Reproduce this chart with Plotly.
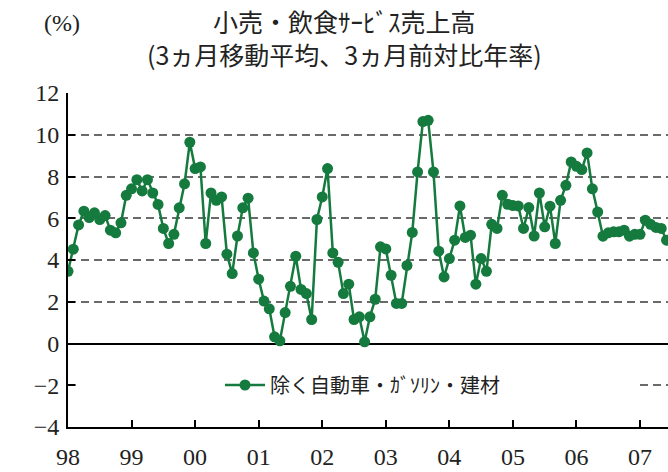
import plotly.graph_objects as go

# Monthly values, Jan 1998 onward (%)
retail_ex_auto = [
    3.46, 4.52, 5.68, 6.34, 6.03, 6.26, 5.94, 6.13, 5.43, 5.30, 5.78, 7.10,
    7.41, 7.85, 7.31, 7.85, 7.21, 6.66, 5.51, 4.79, 5.23, 6.50, 7.65, 9.64,
    8.38, 8.46, 4.79, 7.21, 6.86, 7.02, 4.28, 3.35, 5.15, 6.50, 6.96, 4.34,
    3.08, 2.03, 1.66, 0.32, 0.13, 1.48, 2.74, 4.18, 2.59, 2.39, 1.15, 5.94,
    7.02, 8.38, 4.34, 3.89, 2.39, 2.84, 1.15, 1.28, 0.08, 1.28, 2.12, 4.63,
    4.53, 3.27, 1.92, 1.92, 3.74, 5.32, 8.22, 10.63, 10.69, 8.22, 4.42, 3.19,
    4.07, 4.95, 6.59, 5.08, 5.19, 2.84, 4.07, 3.46, 5.71, 5.51, 7.10, 6.67,
    6.61, 6.59, 5.51, 6.51, 5.15, 7.21, 5.59, 6.58, 4.79, 6.86, 7.58, 8.70,
    8.49, 8.33, 9.13, 7.41, 6.30, 5.14, 5.30, 5.35, 5.35, 5.43, 5.14, 5.23,
    5.23, 5.91, 5.71, 5.56, 5.51, 4.95,
]
year_labels = ["98", "99", "00", "01", "02", "03", "04", "05", "06", "07"]
y_ticks = [-4, -2, 0, 2, 4, 6, 8, 10, 12]
y_tick_text = ["\u22124", "\u22122", "0", "2", "4", "6", "8", "10", "12"]
series_name = "除く自動車・ｶﾞｿﾘﾝ・建材"
title_line1 = "小売・飲食ｻｰﾋﾞｽ売上高"
title_line2 = "(3ヵ月移動平均、3ヵ月前対比年率)"
unit_label = "(%)"

months = list(range(len(retail_ex_auto)))
tick_pos = [12 * i for i in range(len(year_labels))]

GREEN = "#157A3D"
SERIF = "Liberation Serif, Noto Sans CJK JP"
CJK = "Noto Sans CJK JP"

W, H = 668, 472
L, T, R = 68, 93, 0
B = H - 427
pw = W - L - R
ph = H - T - B
x_max = pw / (63.56 / 12)


def px(page_x):
    return (page_x - L) / pw


def py(page_y):
    return 1 - (page_y - T) / ph


fig = go.Figure()
fig.add_trace(go.Scatter(
    x=months, y=retail_ex_auto, mode="lines+markers", name=series_name,
    line=dict(color=GREEN, width=2.5),
    marker=dict(color=GREEN, size=11),
))

fig.update_layout(
    width=W, height=H,
    margin=dict(l=L, r=R, t=T, b=B, autoexpand=False),
    paper_bgcolor="white", plot_bgcolor="white",
    showlegend=True,
    legend=dict(
        orientation="h", x=px(220), xanchor="left",
        y=py(385), yanchor="middle",
        bgcolor="rgba(0,0,0,0)", font=dict(family=CJK, size=20, color="#222"),
        itemwidth=40,
    ),
    xaxis=dict(
        range=[0, x_max], tickmode="array", tickvals=tick_pos, ticktext=year_labels,
        ticks="inside", ticklen=7, tickwidth=1.5, tickcolor="black",
        showline=True, linecolor="black", linewidth=2,
        showgrid=False, zeroline=False, automargin=False,
        tickfont=dict(family=SERIF, size=24, color="#222"),
        ticklabelstandoff=7,
    ),
    yaxis=dict(
        range=[-4, 12], tickmode="array", tickvals=y_ticks, ticktext=y_tick_text,
        ticks="inside", ticklen=7, tickwidth=1.5, tickcolor="black",
        showline=True, linecolor="black", linewidth=2,
        showgrid=True, gridcolor="#6a6a6a", gridwidth=1.5, griddash="8px,5px",
        zeroline=True, zerolinecolor="black", zerolinewidth=2, automargin=False,
        tickfont=dict(family=SERIF, size=24, color="#222"),
        ticklabelstandoff=2,
    ),
    shapes=[dict(
        type="rect", xref="paper", yref="y", x0=9 / pw, x1=px(637),
        y0=-2.5, y1=-1.5, fillcolor="white", line=dict(width=0), layer="above",
    )],
    annotations=[
        dict(text=title_line1 + "<br>" + title_line2, xref="paper", yref="paper",
             x=px(344), y=py(38), xanchor="center", yanchor="middle",
             showarrow=False, align="center",
             font=dict(family=CJK, size=25, color="#222")),
        dict(text=unit_label, xref="paper", yref="paper", x=px(62),
             y=py(23), xanchor="center", yanchor="middle",
             showarrow=False, font=dict(family=SERIF, size=24, color="#222")),
    ],
)

fig.write_html(
    "out.html",
    config={"displayModeBar": False},
    post_script="document.body.style.margin='0';document.body.style.overflow='hidden';",
)
